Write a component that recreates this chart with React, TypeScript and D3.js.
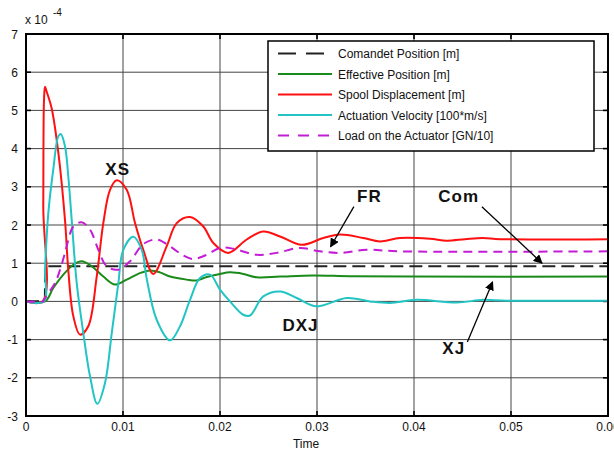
import React from "react";
import * as d3 from "d3";

// ---- data (values in units of 1e-4) ----
const T_CMD = [0, 0.00195, 0.002, 0.06];
const V_CMD = [0, 0, 0.92, 0.92];

const T_EFF = [0, 0.00196, 0.00281, 0.00385, 0.00488, 0.00574, 0.00677, 0.00797, 0.00918, 0.01038, 0.01175, 0.01278, 0.01381, 0.01485, 0.01657, 0.0176, 0.01863, 0.02, 0.02103, 0.0224, 0.02378, 0.02619, 0.02959, 0.0334, 0.04, 0.06];
const V_EFF = [0, 0, 0.35, 0.7, 0.96, 1.05, 0.92, 0.65, 0.44, 0.57, 0.74, 0.81, 0.76, 0.65, 0.57, 0.55, 0.64, 0.72, 0.76, 0.72, 0.63, 0.65, 0.68, 0.66, 0.65, 0.65];

const T_SPOOL = [0, 0.00172, 0.00178, 0.00186, 0.00196, 0.00212, 0.00265, 0.00333, 0.00402, 0.00436, 0.00488, 0.00557, 0.00642, 0.00729, 0.00797, 0.00866, 0.00935, 0.01038, 0.01124, 0.01209, 0.01312, 0.0145, 0.01554, 0.01691, 0.01828, 0.01931, 0.02086, 0.02275, 0.02446, 0.02619, 0.02842, 0.03065, 0.03237, 0.03477, 0.0365, 0.03856, 0.04165, 0.04337, 0.04526, 0.04711, 0.04887, 0.06];
const V_SPOOL = [0, 0, 2.5, 5.3, 5.62, 5.5, 5.05, 3.9, 2.13, 0.82, -0.39, -0.87, -0.65, 0.65, 2.05, 2.92, 3.17, 2.92, 2.05, 1.35, 0.72, 1.44, 2.05, 2.21, 1.96, 1.53, 1.27, 1.62, 1.83, 1.7, 1.48, 1.66, 1.75, 1.66, 1.57, 1.66, 1.64, 1.59, 1.63, 1.66, 1.63, 1.63];

const T_VEL = [0, 0.00186, 0.00196, 0.0023, 0.00281, 0.00333, 0.00358, 0.00402, 0.00436, 0.00471, 0.00523, 0.00591, 0.0066, 0.00735, 0.00814, 0.00884, 0.00952, 0.01003, 0.01106, 0.01193, 0.01244, 0.01347, 0.01485, 0.01588, 0.01691, 0.01794, 0.01897, 0.02, 0.02103, 0.0224, 0.02309, 0.02446, 0.02619, 0.02791, 0.02997, 0.03306, 0.03546, 0.03753, 0.04028, 0.0444, 0.04714, 0.04956, 0.06];
const V_VEL = [0, 0, 0.83, 2.31, 3.45, 4.32, 4.38, 4.06, 3.27, 2.14, 0.48, -0.83, -1.96, -2.68, -2.14, -0.83, 0.48, 1.35, 1.69, 1.35, 0.6, -0.48, -1.02, -0.65, 0.04, 0.61, 0.7, 0.31, 0, -0.35, -0.37, 0.13, 0.26, 0.09, -0.13, 0.09, 0, -0.04, 0.04, -0.03, 0.04, 0.02, 0.02];

const T_LOAD = [0, 0.0018, 0.00179 + 0.00001, 0.00299, 0.00351, 0.00402, 0.00419, 0.00488, 0.00574, 0.0066, 0.00746, 0.00832, 0.00952, 0.01072, 0.01209, 0.01347, 0.01485, 0.01622, 0.01725, 0.01863, 0.02, 0.02137, 0.02378, 0.02585, 0.02825, 0.03031, 0.03237, 0.03512, 0.03856, 0.06];
const V_LOAD = [0, 0, 0.02, 0.48, 0.83, 1.27, 1.44, 1.96, 2.07, 1.88, 1.35, 0.92, 0.83, 1.05, 1.5, 1.62, 1.44, 1.2, 1.11, 1.22, 1.4, 1.38, 1.22, 1.27, 1.4, 1.31, 1.27, 1.35, 1.31, 1.31];

const X_TICKS = [0, 0.01, 0.02, 0.03, 0.04, 0.05, 0.06];
const X_TICK_LABELS = ["0", "0.01", "0.02", "0.03", "0.04", "0.05", "0.06"];
const Y_TICKS = [-3, -2, -1, 0, 1, 2, 3, 4, 5, 6, 7];

const LEGEND_LABELS = [
  "Comandet Position [m]",
  "Effective Position [m]",
  "Spool Displacement [m]",
  "Actuation Velocity [100*m/s]",
  "Load on the Actuator [GN/10]",
];

const ANNOTATIONS = [
  { text: "XS", t: 0.00945, v: 3.3 },
  { text: "FR", t: 0.0354, v: 2.6 },
  { text: "Com", t: 0.0446, v: 2.6 },
  { text: "DXJ", t: 0.0283, v: -0.78 },
  { text: "XJ", t: 0.0441, v: -1.37 },
];

// arrows: [t0, v0, t1, v1]
const ARROWS = [
  [0.0338, 2.48, 0.0314, 1.43],
  [0.0470, 2.48, 0.0532, 1.0],
  [0.0455, -1.06, 0.0481, 0.51],
];

const FONT = "'Liberation Sans', Arial, Helvetica, sans-serif";

export default function App() {
  const W = 614, H = 453;
  const L = 26, R = 608, TOP = 34, BOT = 416;
  const x = d3.scaleLinear().domain([0, 0.06]).range([L, R]);
  const y = d3.scaleLinear().domain([-3, 7]).range([BOT, TOP]);

  const mk = (ts: number[], vs: number[], curve: any) =>
    d3
      .line<number>()
      .x((_, i) => x(ts[i]))
      .y((v) => y(v))
      .curve(curve)(vs) as string;

  const smooth = d3.curveCatmullRom.alpha(0.5);

  const series = [
    { t: T_CMD, v: V_CMD, color: "#222", dash: "13 6", width: 2.2, curve: d3.curveLinear },
    { t: T_EFF, v: V_EFF, color: "#1a8a1a", dash: undefined, width: 2, curve: smooth },
    { t: T_SPOOL, v: V_SPOOL, color: "#ff1010", dash: undefined, width: 2, curve: smooth },
    { t: T_VEL, v: V_VEL, color: "#22c4c4", dash: undefined, width: 2, curve: smooth },
    { t: T_LOAD, v: V_LOAD, color: "#c41cd6", dash: "9 6", width: 2, curve: smooth },
  ];

  const legendX0 = 268, legendY0 = 41, legendW = 326, legendH = 110;
  const rowY = (i: number) => 53.5 + i * 20.5;

  return (
    <svg width={W} height={H} style={{ position: "absolute", left: 0, top: 0, background: "#fff" }} fontFamily={FONT}>
      <defs>
        <clipPath id="plotclip">
          <rect x={L} y={TOP} width={R - L} height={BOT - TOP} />
        </clipPath>
        <marker id="ah" viewBox="0 0 10 10" refX="9" refY="5" markerWidth="7" markerHeight="7" orient="auto">
          <path d="M0,0 L10,5 L0,10 z" fill="#000" />
        </marker>
      </defs>
      <rect x={0} y={0} width={W} height={H} fill="#fff" />
      {/* grid */}
      {X_TICKS.map((t) => (
        <line key={"gx" + t} x1={x(t)} x2={x(t)} y1={TOP} y2={BOT} stroke="#444" strokeWidth={1} />
      ))}
      {Y_TICKS.map((v) => (
        <line key={"gy" + v} x1={L} x2={R} y1={y(v)} y2={y(v)} stroke="#444" strokeWidth={1} />
      ))}
      {/* tick marks inside */}
      {X_TICKS.map((t) => (
        <g key={"tx" + t}>
          <line x1={x(t)} x2={x(t)} y1={BOT} y2={BOT - 5} stroke="#000" strokeWidth={1.6} />
          <line x1={x(t)} x2={x(t)} y1={TOP} y2={TOP + 5} stroke="#000" strokeWidth={1.6} />
        </g>
      ))}
      {Y_TICKS.map((v) => (
        <g key={"ty" + v}>
          <line x1={L} x2={L + 5} y1={y(v)} y2={y(v)} stroke="#000" strokeWidth={1.6} />
          <line x1={R} x2={R - 5} y1={y(v)} y2={y(v)} stroke="#000" strokeWidth={1.6} />
        </g>
      ))}
      {/* series */}
      <g clipPath="url(#plotclip)">
        {series.map((s, i) => (
          <path
            key={"s" + i}
            d={mk(s.t, s.v, s.curve)}
            fill="none"
            stroke={s.color}
            strokeWidth={s.width}
            strokeDasharray={s.dash}
            strokeLinejoin="round"
          />
        ))}
      </g>
      {/* frame */}
      <rect x={L} y={TOP} width={R - L} height={BOT - TOP} fill="none" stroke="#000" strokeWidth={2} />
      {/* tick labels */}
      {X_TICKS.map((t, i) => (
        <text key={"lx" + t} x={x(t)} y={431} textAnchor="middle" fontSize={12} fill="#111">
          {X_TICK_LABELS[i]}
        </text>
      ))}
      {Y_TICKS.map((v) => (
        <text key={"ly" + v} x={18} y={y(v) + 4.5} textAnchor="end" fontSize={12} fill="#111">
          {String(v)}
        </text>
      ))}
      <text x={25} y={24} fontSize={12} fill="#111">x 10</text>
      <text x={53} y={16} fontSize={10} fill="#111">-4</text>
      <text x={306} y={448} textAnchor="middle" fontSize={12} fill="#111">Time</text>
      {/* legend */}
      <rect x={legendX0} y={legendY0} width={legendW} height={legendH} fill="#fff" stroke="#000" strokeWidth={1.5} />
      {series.map((s, i) => (
        <g key={"lg" + i}>
          <line
            x1={278}
            x2={332}
            y1={rowY(i)}
            y2={rowY(i)}
            stroke={s.color}
            strokeWidth={s.width}
            strokeDasharray={s.dash ? (i === 0 ? "18 10" : "11 9") : undefined}
          />
          <text x={338} y={rowY(i) + 4.5} fontSize={12} fill="#111">
            {LEGEND_LABELS[i]}
          </text>
        </g>
      ))}
      {/* annotations */}
      {ARROWS.map((a, i) => (
        <line
          key={"ar" + i}
          x1={x(a[0])}
          y1={y(a[1])}
          x2={x(a[2])}
          y2={y(a[3])}
          stroke="#000"
          strokeWidth={1.3}
          markerEnd="url(#ah)"
        />
      ))}
      {ANNOTATIONS.map((a) => (
        <text
          key={a.text}
          x={x(a.t)}
          y={y(a.v)}
          textAnchor="middle"
          fontSize={17}
          fontWeight="bold"
          letterSpacing={1}
          fill="#111"
        >
          {a.text}
        </text>
      ))}
    </svg>
  );
}
